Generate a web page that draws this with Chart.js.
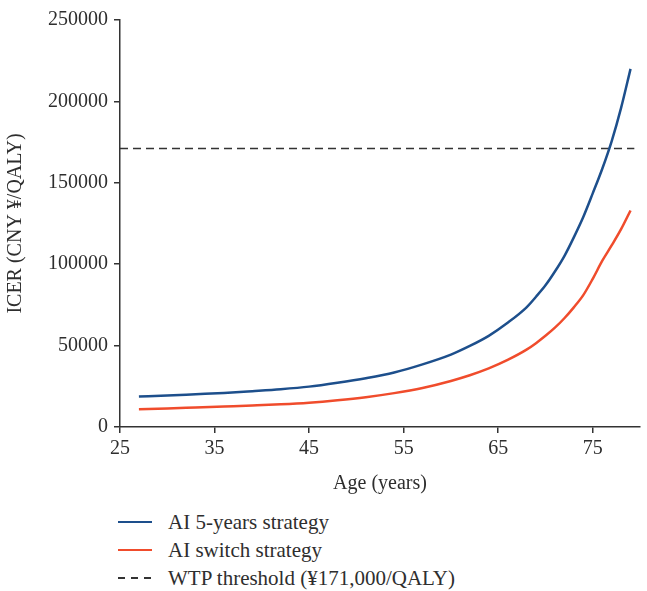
<!DOCTYPE html>
<html>
<head>
<meta charset="utf-8">
<script src="https://cdn.jsdelivr.net/npm/chart.js@4.4.1/dist/chart.umd.min.js"></script>
<style>
  body { margin: 0; background: #fff; }
  #wrap { position: relative; width: 647px; height: 591px; }
  #icerChart { position: absolute; left: 0; top: 0; }
  #legend { position: absolute; left: 118px; top: 508px; font-family: "Liberation Serif", serif; font-size: 21px; color: #2e2e2e; }
  .leg-row { height: 28px; display: flex; align-items: center; }
  .leg-line { width: 34px; height: 2.5px; margin-right: 16px; }
</style>
</head>
<body>
<div id="wrap">
  <canvas id="icerChart" width="647" height="500"></canvas>
  <div id="legend"></div>
</div>
<script>
// ages (years) shared by both strategies
const ages = [27, 30, 33, 36, 39, 42, 45, 48, 51, 54, 57, 60, 62, 64, 66, 68, 69, 70, 71, 72, 73, 74, 75, 76, 77, 78, 79];
const fiveYearIcer = [18700, 19300, 20100, 20900, 22000, 23200, 24800, 27200, 30000, 33500, 38500, 44500, 49800, 56000, 64000, 73500, 80000, 87000, 95500, 105000, 116500, 129000, 143500, 158500, 175500, 196000, 220000];
const switchIcer = [10900, 11400, 12000, 12600, 13200, 13900, 14900, 16400, 18300, 20800, 24000, 28300, 31800, 36000, 41200, 47500, 51500, 56000, 61000, 66800, 73500, 81000, 91000, 102000, 111500, 121500, 133000];
const wtpThreshold = 171000;
const wtpAges = [25, 79.4];
const xTicks = [25, 35, 45, 55, 65, 75];
const yTicks = [0, 50000, 100000, 150000, 200000, 250000];

const axisColor = '#333333';
const textColor = '#2e2e2e';
const font = { family: 'Liberation Serif', size: 20 };

function toPoints(xs, ys) {
  return xs.map((x, i) => ({ x: x, y: ys[i] }));
}

const ctx = document.getElementById('icerChart');

const chart = new Chart(ctx, {
  type: 'line',
  data: {
    datasets: [
      {
        label: 'AI 5-years strategy',
        data: toPoints(ages, fiveYearIcer),
        borderColor: '#1d4f8c',
        borderWidth: 2.5,
        pointRadius: 0,
        cubicInterpolationMode: 'monotone',
      },
      {
        label: 'AI switch strategy',
        data: toPoints(ages, switchIcer),
        borderColor: '#f04c2c',
        borderWidth: 2.5,
        pointRadius: 0,
        cubicInterpolationMode: 'monotone',
      },
      {
        label: 'WTP threshold (¥171,000/QALY)',
        data: wtpAges.map(a => ({ x: a, y: wtpThreshold })),
        borderColor: '#333333',
        borderWidth: 1.5,
        borderDash: [8, 5],
        pointRadius: 0,
      },
    ],
  },
  options: {
    responsive: false,
    animation: false,
    layout: { padding: { left: 0, right: 7, top: 20, bottom: 0 } },
    plugins: {
      legend: { display: false },
      tooltip: { enabled: false },
    },
    scales: {
      x: {
        type: 'linear',
        min: 25,
        max: 80,
        afterBuildTicks: (scale) => {
          scale.ticks = xTicks.map(v => ({ value: v }));
        },
        afterFit: (scale) => { scale.height = 73; },
        ticks: { color: textColor, font: font, padding: 4, maxRotation: 0 },
        grid: { drawOnChartArea: false, drawTicks: true, tickLength: 6, color: axisColor, lineWidth: 1.5 },
        border: { display: true, color: axisColor, width: 1.5 },
        title: { display: true, text: 'Age (years)', color: textColor, font: font, padding: { top: 2 } },
      },
      y: {
        min: 0,
        max: 250000,
        afterBuildTicks: (scale) => {
          scale.ticks = yTicks.map(v => ({ value: v }));
        },
        afterFit: (scale) => { scale.width = 120; },
        ticks: { color: textColor, font: font, padding: 6, callback: (v) => String(v) },
        grid: { drawOnChartArea: false, drawTicks: true, tickLength: 6, color: axisColor, lineWidth: 1.5 },
        border: { display: true, color: axisColor, width: 1.5 },
        title: { display: true, text: 'ICER (CNY ¥/QALY)', color: textColor, font: font, padding: { bottom: 2 } },
      },
    },
  },
});

// HTML legend stacked vertically, built from the datasets
const legend = document.getElementById('legend');
chart.data.datasets.forEach((ds) => {
  const row = document.createElement('div');
  row.className = 'leg-row';
  const line = document.createElement('span');
  line.className = 'leg-line';
  if (ds.borderDash) {
    line.style.height = '1.5px';
    line.style.background = 'repeating-linear-gradient(to right, ' + ds.borderColor + ' 0 7px, transparent 7px 13px)';
  } else {
    line.style.background = ds.borderColor;
  }
  const label = document.createElement('span');
  label.textContent = ds.label;
  row.appendChild(line);
  row.appendChild(label);
  legend.appendChild(row);
});
</script>
</body>
</html>
